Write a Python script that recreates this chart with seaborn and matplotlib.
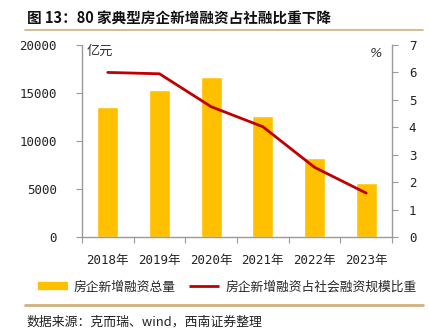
import matplotlib
matplotlib.use("Agg")
import matplotlib.pyplot as plt
import seaborn as sns
import pandas as pd
from matplotlib.lines import Line2D

years = ["2018年", "2019年", "2020年", "2021年", "2022年", "2023年"]
financing = [13540, 15310, 16670, 12600, 8200, 5660]
share = [6.00, 5.95, 4.75, 4.02, 2.54, 1.60]
bar_label = "房企新增融资总量"
line_label = "房企新增融资占社会融资规模比重"
title = "图 13：80 家典型房企新增融资占社融比重下降"
source = "数据来源：克而瑞、wind，西南证券整理"

sns.set_theme(style="white")
plt.rcParams['font.family'] = ['Noto Sans CJK SC', 'DejaVu Sans']

df = pd.DataFrame({"year": years, "financing": financing, "share": share})

fig = plt.figure(figsize=(4.29, 3.35), dpi=100)
ax = fig.add_axes([0.191, 0.2925, 0.723, 0.5732])
sns.barplot(data=df, x="year", y="financing", color="#FFC000", width=0.41,
            saturation=1, ax=ax)
ax.set_xlim(-0.5, 5.5)
ax.set_ylim(0, 20000)
ax.set_yticks([0, 5000, 10000, 15000, 20000])
ax.set_xlabel("")
ax.set_ylabel("")

ax2 = ax.twinx()
sns.lineplot(data=df, x="year", y="share", color="#C00000", linewidth=2,
             sort=False, ax=ax2)
ax2.set_ylim(0, 7)
ax2.set_yticks(range(8))
ax2.set_ylabel("")
ax2.set_xlim(-0.5, 5.5)

grey = "#9a9a9a"
for a in (ax, ax2):
    for s in a.spines.values():
        s.set_visible(False)
ax.spines['left'].set_visible(True)
ax.spines['bottom'].set_visible(True)
ax2.spines['right'].set_visible(True)
for a, side in ((ax, 'left'), (ax2, 'right')):
    a.spines[side].set_color(grey)
    a.spines[side].set_linewidth(1)
ax.spines['bottom'].set_color(grey)
ax.spines['bottom'].set_linewidth(1)

mono = ['DejaVu Sans Mono', 'Noto Sans CJK SC']
ax.tick_params(axis='y', which='both', left=True, length=4, width=0.8, color=grey,
               labelsize=9, pad=14)
ax2.tick_params(axis='y', which='both', right=True, length=4, width=0.8, color=grey,
                labelsize=9, pad=8)
ax.set_xticks(range(6))
ax.set_xticklabels(years)
ax.set_xticks([i + 0.5 for i in range(-1, 6)], minor=True)
ax.tick_params(axis='x', which='major', bottom=False, labelsize=9, pad=6)
ax.tick_params(axis='x', which='minor', bottom=True, length=4, width=0.8, color=grey)
for lab in ax.get_yticklabels() + ax2.get_yticklabels() + ax.get_xticklabels():
    lab.set_family(mono)
    lab.set_color("#222222")

ax.text(0.015, 1.0, "亿元", transform=ax.transAxes, ha='left', va='top',
        fontsize=9.5, color="#333333")
ax2.text(0.95, 0.99, "%", transform=ax.transAxes, ha='center', va='top',
         fontsize=9.5, color="#333333", family=['DejaVu Sans'], style='italic')

# title and rules
fig.text(0.062, 0.945, title, fontsize=10.5, fontweight='bold', ha='left', va='center',
         color="#111111")
rule = "#D2B07E"
fig.add_artist(Line2D([0.058, 0.985], [0.91, 0.91], color=rule, lw=1.2))
fig.add_artist(Line2D([0.058, 0.985], [0.09, 0.09], color=rule, lw=2))

handles = [Line2D([0], [0], color="#FFC000", lw=6, solid_capstyle='butt'),
           Line2D([0], [0], color="#C00000", lw=2, solid_capstyle='butt')]
fig.legend(handles, [bar_label, line_label], loc='center', ncol=2,
           bbox_to_anchor=(0.529, 0.143), frameon=False, fontsize=9.2,
           handlelength=2.4, handletextpad=0.45, columnspacing=1.0)

fig.text(0.062, 0.038, source, fontsize=9.3, ha='left', va='center',
         style='italic', color="#222222")

fig.savefig("out.png", dpi=100)
